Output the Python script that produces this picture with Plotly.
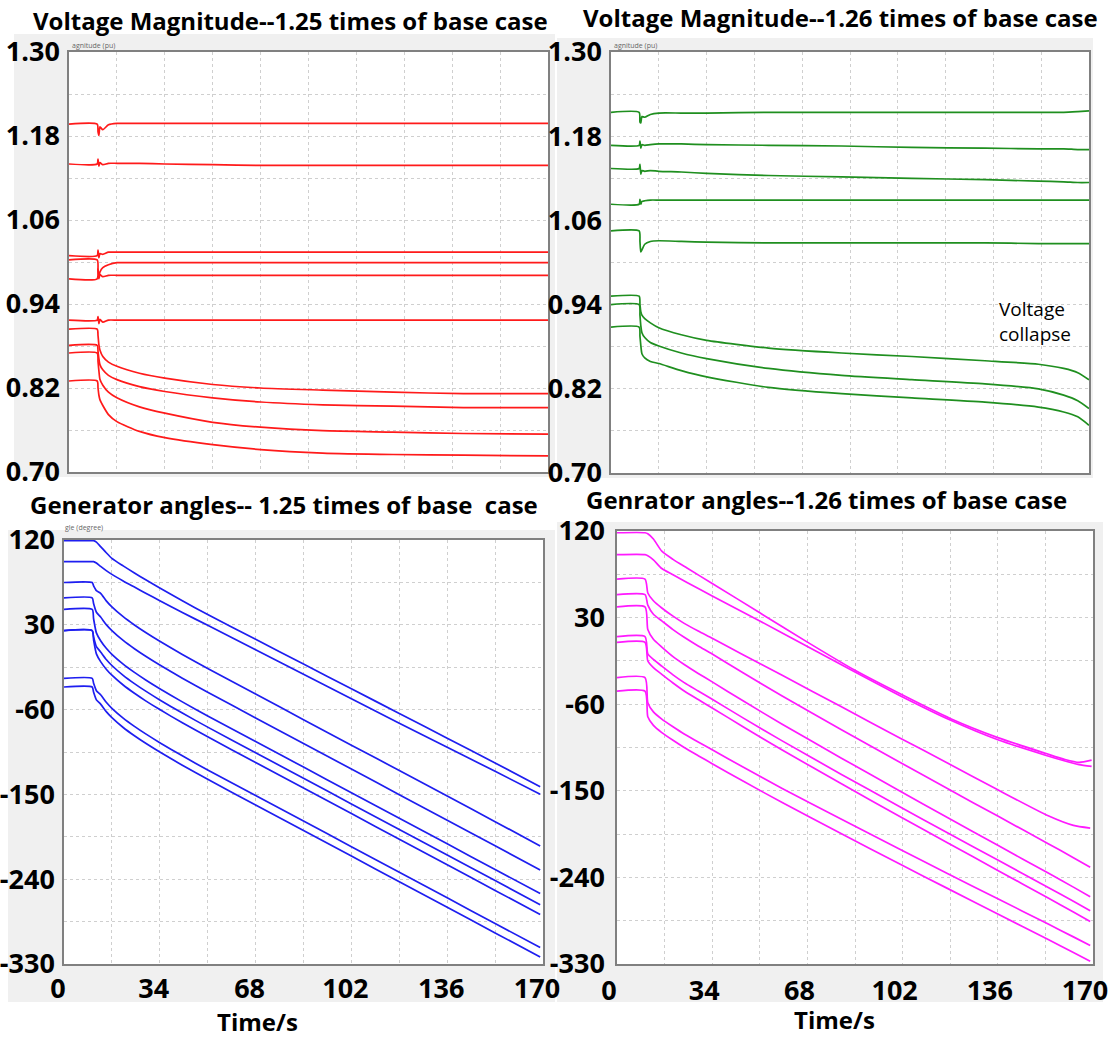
import plotly.graph_objects as go

W, H = 1114, 1038

# ---------------- data ----------------
# Top-left: voltage magnitude, 1.25 x base case (pu)
T_V1 = [0, 10, 10.3, 10.6, 11, 12, 14, 17, 25, 34, 51, 68, 90, 115, 140, 170]
V1 = [1.197, 1.197, 1.186, 1.181, 1.193, 1.189, 1.196, 1.198, 1.198, 1.198, 1.198, 1.198, 1.198, 1.198, 1.198, 1.198]
V2 = [1.140, 1.140, 1.147, 1.137, 1.142, 1.139, 1.141, 1.141, 1.141, 1.140, 1.139, 1.138, 1.138, 1.138, 1.138, 1.138]
V3 = [1.009, 1.009, 1.017, 1.006, 1.012, 1.011, 1.014, 1.014, 1.014, 1.014, 1.014, 1.014, 1.014, 1.014, 1.014, 1.014]
V4 = [1.003, 1.003, 0.988, 0.980, 0.986, 0.992, 0.996, 0.999, 0.999, 0.999, 0.999, 0.999, 0.999, 0.999, 0.999, 0.999]
V5 = [0.976, 0.976, 0.990, 0.976, 0.982, 0.979, 0.981, 0.981, 0.981, 0.981, 0.981, 0.981, 0.981, 0.981, 0.981, 0.981]
V6 = [0.917, 0.917, 0.922, 0.912, 0.918, 0.914, 0.917, 0.917, 0.917, 0.917, 0.917, 0.917, 0.917, 0.917, 0.917, 0.917]
VA = [0.904, 0.904, 0.895, 0.882, 0.874, 0.865, 0.857, 0.851, 0.841, 0.834, 0.825, 0.820, 0.817, 0.814, 0.812, 0.812]
VB = [0.881, 0.881, 0.872, 0.862, 0.853, 0.846, 0.838, 0.832, 0.822, 0.815, 0.806, 0.800, 0.796, 0.794, 0.792, 0.792]
VC = [0.870, 0.870, 0.858, 0.845, 0.832, 0.824, 0.814, 0.806, 0.793, 0.784, 0.771, 0.764, 0.759, 0.757, 0.755, 0.754]
VD = [0.830, 0.830, 0.820, 0.810, 0.803, 0.795, 0.782, 0.772, 0.758, 0.749, 0.739, 0.732, 0.727, 0.725, 0.724, 0.723]
VOLT_125 = [V1, V2, V3, V4, V5, V6, VA, VB, VC, VD]

# Top-right: voltage magnitude, 1.26 x base case (pu)
T_V2 = [0, 10, 10.3, 10.6, 11, 12, 14, 17, 25, 34, 56, 82, 107, 133, 152, 161, 166, 170]
G1 = [1.214, 1.214, 1.200, 1.199, 1.208, 1.207, 1.211, 1.213, 1.213, 1.213, 1.214, 1.214, 1.214, 1.214, 1.214, 1.214, 1.215, 1.216]
G2 = [1.167, 1.167, 1.173, 1.163, 1.168, 1.167, 1.168, 1.169, 1.169, 1.168, 1.167, 1.166, 1.164, 1.163, 1.162, 1.162, 1.161, 1.161]
G3 = [1.134, 1.134, 1.140, 1.126, 1.131, 1.130, 1.131, 1.130, 1.129, 1.127, 1.124, 1.122, 1.120, 1.118, 1.116, 1.115, 1.114, 1.114]
G4 = [1.083, 1.083, 1.090, 1.083, 1.087, 1.088, 1.089, 1.089, 1.089, 1.089, 1.089, 1.089, 1.089, 1.089, 1.089, 1.089, 1.089, 1.089]
G5 = [1.045, 1.045, 1.030, 1.015, 1.018, 1.026, 1.030, 1.031, 1.030, 1.029, 1.028, 1.028, 1.028, 1.028, 1.027, 1.027, 1.027, 1.027]
GA = [0.952, 0.952, 0.940, 0.930, 0.925, 0.920, 0.914, 0.907, 0.897, 0.889, 0.878, 0.871, 0.866, 0.860, 0.855, 0.849, 0.843, 0.833]
GB = [0.940, 0.940, 0.925, 0.910, 0.900, 0.893, 0.886, 0.881, 0.871, 0.863, 0.849, 0.839, 0.833, 0.827, 0.820, 0.811, 0.803, 0.792]
GC = [0.908, 0.908, 0.895, 0.882, 0.870, 0.864, 0.859, 0.856, 0.846, 0.837, 0.822, 0.813, 0.807, 0.801, 0.794, 0.787, 0.780, 0.768]
VOLT_126 = [G1, G2, G3, G4, G5, GA, GB, GC]

# Bottom-left: generator angles, 1.25 x base case (degree)
T_A1 = [0, 10, 10.5, 11.5, 13, 15, 17, 21, 25, 29, 34, 42, 51, 68, 85, 102, 119, 136, 153, 169]
A1 = [119.3, 119.3, 119.3, 117.8, 113.0, 106.5, 100.5, 92.5, 85.0, 77.8, 69.0, 55.5, 40.9, 14.6, -11.6, -37.9, -64.1, -90.4, -116.6, -141.8]
A2 = [97.1, 97.1, 97.1, 95.5, 92.0, 87.5, 83.5, 76.5, 70.0, 63.5, 55.5, 43.0, 29.5, 3.5, -22.5, -48.5, -74.5, -100.0, -125.5, -149.9]
A3 = [74.9, 74.9, 71.4, 66.3, 63.4, 55.4, 49.0, 38.6, 29.8, 21.8, 12.5, -1.5, -16.4, -43.5, -70.7, -97.8, -124.6, -151.7, -178.9, -204.7]
A4 = [58.6, 58.6, 52.5, 43.3, 38.2, 30.2, 23.8, 13.4, 4.6, -3.4, -12.7, -26.7, -41.6, -68.8, -95.9, -123.1, -150.3, -177.4, -204.6, -230.2]
A5 = [46.4, 46.4, 36.4, 21.4, 13.1, 5.1, -1.3, -11.7, -20.5, -28.5, -37.8, -51.8, -66.7, -93.9, -121.0, -148.2, -175.4, -202.5, -229.7, -255.3]
A6 = [23.9, 23.9, 17.1, 6.9, 1.2, -6.8, -13.2, -23.6, -32.4, -40.4, -49.7, -63.7, -78.6, -105.7, -132.9, -160.1, -187.2, -214.4, -241.5, -267.1]
A7 = [23.9, 23.9, 14.0, -0.9, -9.1, -17.1, -23.5, -33.9, -42.7, -50.7, -60.0, -74.0, -88.9, -116.1, -143.2, -170.4, -197.6, -224.7, -251.9, -277.5]
A8 = [-26.8, -26.8, -32.0, -39.9, -44.2, -52.2, -58.6, -69.0, -77.8, -85.8, -95.1, -109.1, -124.0, -151.2, -178.3, -205.5, -232.7, -259.8, -287.0, -312.6]
A9 = [-36.0, -36.0, -41.5, -49.7, -54.2, -62.2, -68.6, -79.0, -87.8, -95.8, -105.1, -119.1, -134.0, -161.2, -188.3, -215.5, -242.7, -269.8, -297.0, -322.6]
ANG_125 = [A1, A2, A3, A4, A5, A6, A7, A8, A9]

# Bottom-right: generator angles, 1.26 x base case (degree)
T_A2_TOP = [0, 10, 11, 13, 16, 20, 25, 34, 51, 68, 85, 102, 119, 136, 153, 160, 165, 169.5]
B1 = [118.2, 118.2, 117.1, 111.7, 99.0, 90.5, 81.5, 65.5, 35.0, 4.5, -24.8, -50.5, -74.8, -94.7, -111.0, -117.5, -120.5, -118.2]
B2 = [95.4, 95.4, 94.3, 90.0, 81.0, 74.5, 66.5, 52.5, 26.5, 0.0, -26.5, -52.5, -76.5, -97.0, -113.0, -119.0, -122.8, -124.7]
T_A2 = [0, 10, 11, 13, 16, 20, 24, 29, 34, 45, 59, 80, 101, 118, 136, 154, 163, 169]
B3 = [70.0, 70.0, 55.6, 47.5, 40.0, 31.5, 24.0, 16.0, 8.5, -8.5, -30.0, -62.5, -95.0, -121.0, -149.0, -176.0, -186.0, -188.8]
B4 = [53.8, 53.8, 42.9, 33.5, 26.6, 17.5, 9.5, 0.5, -7.8, -27.3, -51.4, -86.2, -120.3, -147.7, -176.3, -205.0, -219.5, -229.4]
B5 = [41.1, 41.1, 17.6, 7.5, -0.6, -10.5, -18.7, -28.0, -36.8, -56.5, -80.8, -115.8, -150.2, -177.8, -206.7, -235.5, -250.1, -260.1]
B6 = [10.3, 10.3, -7.8, -13.5, -20.5, -29.5, -37.6, -46.3, -54.9, -74.2, -98.1, -132.7, -166.5, -193.6, -222.0, -250.4, -264.8, -274.6]
B7 = [4.2, 4.2, -15.0, -22.0, -29.0, -38.0, -46.3, -55.2, -63.9, -83.4, -107.6, -142.5, -176.6, -204.0, -232.7, -261.4, -275.9, -285.8]
B8 = [-32.4, -32.4, -58.5, -68.0, -75.5, -83.5, -91.0, -99.2, -107.4, -125.3, -147.5, -179.4, -210.8, -235.9, -262.2, -288.5, -301.8, -310.8]
B9 = [-46.5, -46.5, -73.0, -82.0, -89.5, -97.5, -105.0, -113.5, -121.8, -139.9, -162.2, -194.5, -226.1, -251.4, -278.0, -304.6, -318.0, -327.1]
ANG_126_TOP = [B1, B2]
ANG_126 = [B3, B4, B5, B6, B7, B8, B9]

TIME_TICKS = [0, 34, 68, 102, 136, 170]
VOLT_TICKS = [0.70, 0.82, 0.94, 1.06, 1.18, 1.30]
ANG_TICKS = [-330, -240, -150, -60, 30, 120]

TITLES = ["Voltage Magnitude--1.25 times of base case",
          "Voltage Magnitude--1.26 times of base case",
          "Generator angles-- 1.25 times of base  case",
          "Genrator angles--1.26 times of base case"]

# ---------------- layout helpers ----------------
def px_x(p):
    return p / W

def px_y(p):
    return 1 - p / H

# plot areas in pixels: (left, right, top, bottom)
AREAS = {
    "tl": (69, 548, 52, 472),
    "tr": (611, 1089, 52, 473),
    "bl": (64, 543, 540, 964),
    "br": (617, 1093, 531, 964),
}
FRAMES = {
    "tl": (14, 555, 34, 477),
    "tr": (557, 1093, 38, 478),
    "bl": (8, 555, 530, 1002),
    "br": (557, 1103, 522, 1002),
}

RED = "#ff1a1a"
GREEN = "#1f8f1f"
BLUE = "#1e1ef0"
MAGENTA = "#ff1aff"

fig = go.Figure()

def add_lines(t, series, color, xa, ya):
    for s in series:
        fig.add_trace(go.Scatter(x=t, y=s, mode="lines",
                                 line=dict(color=color, width=1.7, shape="spline", smoothing=0.6),
                                 xaxis=xa, yaxis=ya, showlegend=False, hoverinfo="skip"))

add_lines(T_V1, VOLT_125, RED, "x", "y")
add_lines(T_V2, VOLT_126, GREEN, "x2", "y2")
add_lines(T_A1, ANG_125, BLUE, "x3", "y3")
add_lines(T_A2_TOP, ANG_126_TOP, MAGENTA, "x4", "y4")
add_lines(T_A2, ANG_126, MAGENTA, "x4", "y4")

TICKFONT = dict(family="Open Sans", size=27, color="black", weight="bold")
GRID = dict(gridcolor="#cfcfcf", griddash="dot", gridwidth=1)

def xaxis_cfg(key, anchor, labels, shift=0, standoff=0):
    l, r, t, b = AREAS[key]
    return dict(domain=[px_x(l), px_x(r)], anchor=anchor, range=[0, 170],
                tickvals=TIME_TICKS, ticktext=[str(v) for v in TIME_TICKS],
                showticklabels=labels, tickfont=TICKFONT, ticks="",
                showgrid=True, **GRID,
                minor=dict(tick0=0, dtick=17, showgrid=True, **GRID),
                showline=True, linecolor="#808080", linewidth=1.5, mirror=True,
                zeroline=False, ticklabelshift=shift, ticklabelstandoff=standoff,
                automargin=False)

def yaxis_cfg(key, anchor, ticks, rng, fmt, minor_dtick, shift=0, standoff=2):
    l, r, t, b = AREAS[key]
    return dict(domain=[px_y(b), px_y(t)], anchor=anchor, range=rng,
                tickvals=ticks, ticktext=[fmt.format(v) for v in ticks],
                tickfont=TICKFONT, ticks="",
                showgrid=True, **GRID,
                minor=dict(tick0=rng[0], dtick=minor_dtick, showgrid=True, **GRID),
                showline=True, linecolor="#808080", linewidth=1.5, mirror=True,
                zeroline=False, ticklabelstandoff=standoff, ticklabelshift=shift,
                automargin=False)

shapes = []
for key in ["tl", "tr", "bl", "br"]:
    l, r, t, b = FRAMES[key]
    shapes.append(dict(type="rect", xref="paper", yref="paper", layer="below",
                       x0=px_x(l), x1=px_x(r), y0=px_y(b), y1=px_y(t),
                       fillcolor="#f0f0f0", line=dict(width=0)))
    l, r, t, b = AREAS[key]
    shapes.append(dict(type="rect", xref="paper", yref="paper", layer="below",
                       x0=px_x(l), x1=px_x(r), y0=px_y(b), y1=px_y(t),
                       fillcolor="white", line=dict(width=0)))

TITLE_FONT = dict(family="Open Sans", size=24, color="black", weight="bold")
annotations = [
    dict(text=TITLES[0], x=px_x(290), y=px_y(21), xref="paper", yref="paper",
         showarrow=False, font=TITLE_FONT, xanchor="center", yanchor="middle"),
    dict(text=TITLES[1], x=px_x(840), y=px_y(17), xref="paper", yref="paper",
         showarrow=False, font=TITLE_FONT, xanchor="center", yanchor="middle"),
    dict(text=TITLES[2], x=px_x(284), y=px_y(504), xref="paper", yref="paper",
         showarrow=False, font=TITLE_FONT, xanchor="center", yanchor="middle"),
    dict(text=TITLES[3], x=px_x(826), y=px_y(499), xref="paper", yref="paper",
         showarrow=False, font=TITLE_FONT, xanchor="center", yanchor="middle"),
    dict(text="Time/s", x=px_x(257), y=px_y(1021), xref="paper", yref="paper",
         showarrow=False, font=TITLE_FONT, xanchor="center", yanchor="middle"),
    dict(text="Time/s", x=px_x(835), y=px_y(1019), xref="paper", yref="paper",
         showarrow=False, font=TITLE_FONT, xanchor="center", yanchor="middle"),
    dict(text="Voltage<br>collapse", x=px_x(997), y=px_y(321), xref="paper", yref="paper",
         showarrow=False, align="left", xanchor="left", yanchor="middle",
         font=dict(family="Open Sans", size=19, color="black")),
    dict(text="agnitude (pu)", x=px_x(70), y=px_y(46), xref="paper", yref="paper",
         showarrow=False, xanchor="left", yanchor="middle",
         font=dict(family="Open Sans", size=7, color="#666666")),
    dict(text="agnitude (pu)", x=px_x(612), y=px_y(46), xref="paper", yref="paper",
         showarrow=False, xanchor="left", yanchor="middle",
         font=dict(family="Open Sans", size=7, color="#666666")),
    dict(text="gle (degree)", x=px_x(63), y=px_y(527), xref="paper", yref="paper",
         showarrow=False, xanchor="left", yanchor="middle",
         font=dict(family="Open Sans", size=7, color="#666666")),
]

fig.update_layout(
    width=W, height=H, margin=dict(l=0, r=0, t=0, b=0),
    paper_bgcolor="white", plot_bgcolor="rgba(0,0,0,0)",
    showlegend=False,
    xaxis=xaxis_cfg("tl", "y", False),
    yaxis=yaxis_cfg("tl", "x", VOLT_TICKS, [0.70, 1.30], "{:.2f}", 0.06),
    xaxis2=xaxis_cfg("tr", "y2", False),
    yaxis2=yaxis_cfg("tr", "x2", VOLT_TICKS, [0.70, 1.30], "{:.2f}", 0.06),
    xaxis3=xaxis_cfg("bl", "y3", True, shift=-6),
    yaxis3=yaxis_cfg("bl", "x3", ANG_TICKS, [-330, 120], "{:d}", 45),
    xaxis4=xaxis_cfg("br", "y4", True, shift=-8, standoff=2),
    yaxis4=yaxis_cfg("br", "x4", ANG_TICKS, [-330, 120], "{:d}", 45, standoff=5),
    shapes=shapes,
    annotations=annotations,
)

fig.write_html("out.html")
